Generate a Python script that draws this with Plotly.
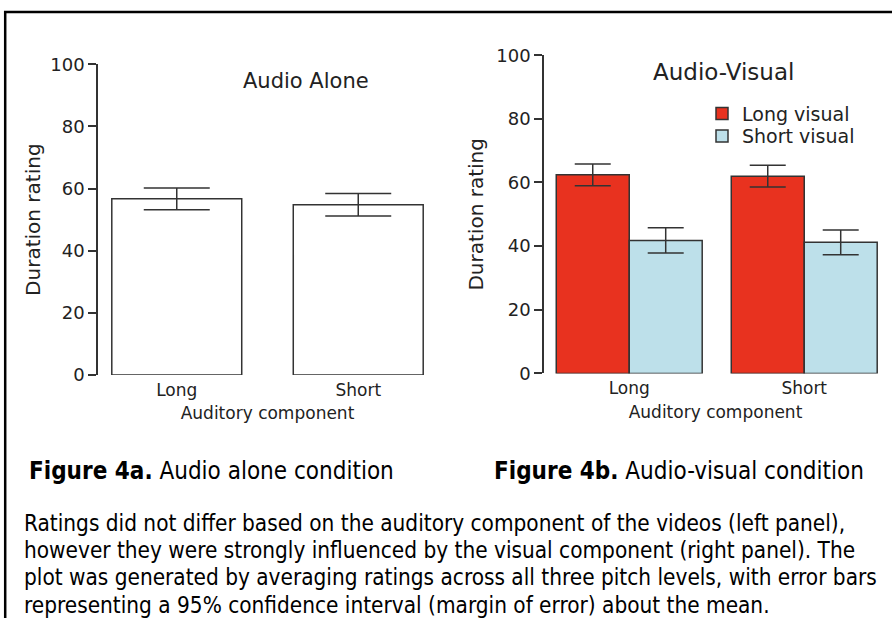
import plotly.graph_objects as go

# ---- data ----
categories = ["Long", "Short"]
audio_alone_means = [56.7, 54.8]
audio_alone_err = [3.5, 3.6]

long_visual_means = [62.4, 62.0]
long_visual_err = [3.4, 3.45]
short_visual_means = [41.8, 41.2]
short_visual_err = [4.0, 3.9]

series_names = ["Long visual", "Short visual"]
y_ticks = [0, 20, 40, 60, 80, 100]
title_left = "Audio Alone"
title_right = "Audio-Visual"
x_title = "Auditory component"
y_title = "Duration rating"

caption_a = "<b>Figure 4a.</b> Audio alone condition"
caption_b = "<b>Figure 4b.</b> Audio-visual condition"
paragraph_lines = [
    "Ratings did not differ based on the auditory component of the videos (left panel),",
    "however they were strongly influenced by the visual component (right panel). The",
    "plot was generated by averaging ratings across all three pitch levels, with error bars",
    "representing a 95% confidence interval (margin of error) about the mean.",
]

W, H = 892, 628
RED = "#E8321F"
BLUE = "#BDE0EA"
EDGE = "#333333"
TXT = "#222222"
CHART_FONT = "DejaVu Sans"
CAP_FONT = "Liberation Sans Narrow, DejaVu Sans Condensed, Liberation Sans, sans-serif"

# the photographed page shows the figure slightly compressed vertically; compensate
V_OFF, V_SC = 9.75, 0.967


def fx(px):
    return px / W


def fy(py):
    fig_px = (py - V_OFF) / V_SC
    return min(1.0, max(0.0, 1 - fig_px / H))


fig = go.Figure()

fig.add_trace(go.Bar(
    x=categories, y=audio_alone_means, xaxis="x", yaxis="y",
    width=0.716, offset=-0.358,
    marker=dict(color="white", line=dict(color=EDGE, width=1.5)),
    error_y=dict(type="data", array=audio_alone_err, color=EDGE, thickness=1.5, width=33),
    showlegend=False,
))

fig.add_trace(go.Bar(
    x=categories, y=long_visual_means, name=series_names[0], xaxis="x2", yaxis="y2",
    width=0.417, offset=-0.417,
    marker=dict(color=RED, line=dict(color=EDGE, width=1.5)),
    error_y=dict(type="data", array=long_visual_err, color=EDGE, thickness=1.5, width=18),
    legend="legend",
))
fig.add_trace(go.Bar(
    x=categories, y=short_visual_means, name=series_names[1], xaxis="x2", yaxis="y2",
    width=0.417, offset=0.0,
    marker=dict(color=BLUE, line=dict(color=EDGE, width=1.5)),
    error_y=dict(type="data", array=short_visual_err, color=EDGE, thickness=1.5, width=18),
    legend="legend2",
))


def yaxis_common(standoff):
    return dict(
        range=[0, 100], tickvals=y_ticks, showline=True, linecolor=EDGE, linewidth=1.5,
        ticks="outside", ticklen=8, tickwidth=1.5, tickcolor=EDGE, showgrid=False, zeroline=False,
        tickfont=dict(family=CHART_FONT, size=18, color=TXT),
        title=dict(text=y_title, font=dict(family=CHART_FONT, size=20, color=TXT), standoff=standoff),
    )


xaxis_common = dict(
    showline=False, ticks="", showgrid=False, zeroline=False,
    tickfont=dict(family=CHART_FONT, size=17, color=TXT), ticklabelstandoff=3,
    title=dict(text=x_title, font=dict(family=CHART_FONT, size=17, color=TXT), standoff=8),
)

legend_common = dict(xanchor="left", yanchor="middle",
                     font=dict(family=CHART_FONT, size=19, color=TXT),
                     bgcolor="rgba(0,0,0,0)", itemclick=False, itemdoubleclick=False)

fig.update_layout(
    width=W, height=H,
    margin=dict(l=0, r=0, t=0, b=0),
    paper_bgcolor="white", plot_bgcolor="white",
    barmode="group",
    xaxis=dict(domain=[fx(98), fx(437)], range=[-0.434, 1.434], anchor="y", **xaxis_common),
    yaxis=dict(domain=[fy(374), fy(63)], anchor="x", **yaxis_common(4)),
    xaxis2=dict(domain=[fx(544), fx(887)], range=[-0.487, 1.473], anchor="y2", **xaxis_common),
    yaxis2=dict(domain=[fy(372.3), fy(54)], anchor="x2", **yaxis_common(7)),
    legend=dict(x=fx(702), y=fy(112.5), **legend_common),
    legend2=dict(x=fx(702), y=fy(135), **legend_common),
    showlegend=True,
)

annotations = [
    dict(text=title_left, x=fx(306), y=fy(80), xref="paper", yref="paper", showarrow=False,
         font=dict(family=CHART_FONT, size=21, color=TXT), xanchor="center", yanchor="middle"),
    dict(text=title_right, x=fx(723), y=fy(71), xref="paper", yref="paper", showarrow=False,
         font=dict(family=CHART_FONT, size=23, color=TXT), xanchor="center", yanchor="middle"),
    dict(text=caption_a, x=fx(27), y=fy(470), xref="paper", yref="paper", showarrow=False,
         font=dict(family=CAP_FONT, size=24, color="black"), xanchor="left", yanchor="middle"),
    dict(text=caption_b, x=fx(492), y=fy(470), xref="paper", yref="paper", showarrow=False,
         font=dict(family=CAP_FONT, size=24, color="black"), xanchor="left", yanchor="middle"),
]
line_centers = [521.5, 549, 576.5, 604]
for txt, yc in zip(paragraph_lines, line_centers):
    annotations.append(dict(text=txt, x=fx(22), y=fy(yc), xref="paper", yref="paper",
                            showarrow=False, font=dict(family=CAP_FONT, size=22.4, color="black"),
                            xanchor="left", yanchor="middle", align="left"))
fig.update_layout(annotations=annotations)

fig.update_layout(shapes=[
    dict(type="line", xref="paper", yref="paper", x0=fx(4), x1=1, y0=1 - 1.0 / H, y1=1 - 1.0 / H,
         line=dict(color="black", width=2.5)),
    dict(type="line", xref="paper", yref="paper", x0=fx(5.2), x1=fx(5.2), y0=1, y1=0,
         line=dict(color="black", width=2.5)),
])

fig.write_html(
    "out.html",
    config={"displayModeBar": False},
    post_script=("document.documentElement.style.margin='0';"
                 "document.body.style.margin='0';document.body.style.padding='0';"
                 "document.documentElement.style.overflow='hidden';"
                 "document.body.style.overflow='hidden';"),
)
